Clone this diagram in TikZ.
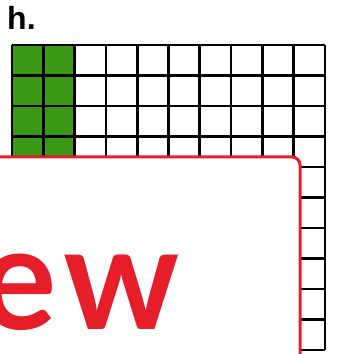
\documentclass[tikz,border=0pt]{standalone}
\usepackage{fontspec}
\setmainfont{Liberation Sans}
\newfontfamily\popfont{Lato}
\definecolor{gridgreen}{RGB}{58,152,22}
\definecolor{markred}{RGB}{230,30,42}
\tikzset{
  cellline/.style={line width=2.7pt,black},
  greencell/.style={fill=gridgreen},
  overlaybox/.style={draw=markred,line width=3pt,fill=white,rounded corners=8pt},
}
\begin{document}
\begin{tikzpicture}[x=1pt,y=1pt]
\useasboundingbox (0,0) rectangle (337,354);
% hundred grid, two columns shaded
\fill[greencell] (12,4) rectangle (74.6,309);
\foreach \i in {0,...,10}
  \draw[cellline] ({12+31.3*\i},4) -- ({12+31.3*\i},309);
\foreach \j in {0,...,10}
  \draw[cellline] (12,{309-30.5*\j}) -- (325,{309-30.5*\j});
\node[font=\bfseries\fontsize{32}{32}\selectfont,anchor=base west,inner sep=0pt] (lbl) at (7,324) {h.};
% watermark panel
\draw[overlaybox] (-20,-20) rectangle (300,197);
\node[font=\popfont\bfseries\fontsize{145}{145}\selectfont,text=markred,anchor=base east,inner sep=0pt] (wm) at (180,24) {e\kern7pt w};
\end{tikzpicture}
\end{document}
